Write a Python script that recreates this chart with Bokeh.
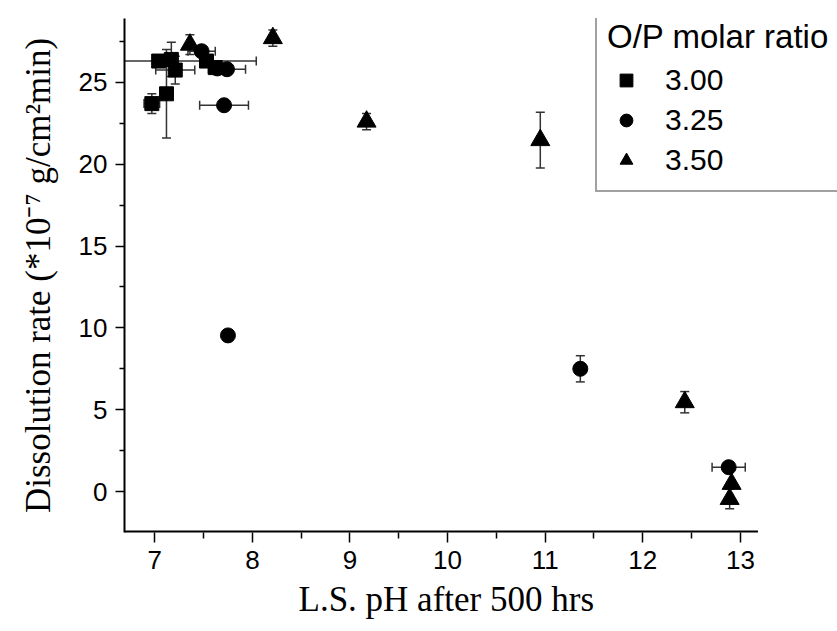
import numpy as np
from bokeh.plotting import figure
from bokeh.models import Range1d, Legend, LegendItem, FixedTicker, Title
from bokeh.embed import file_html
from bokeh.resources import INLINE

# ---- data: O/P molar ratio 3.00 (squares)
ph_300 = [6.97, 7.04, 7.12, 7.17, 7.21, 7.53, 7.62]
rate_300 = [23.7, 26.3, 24.3, 26.4, 25.75, 26.3, 25.9]
xerr_300 = [0.08, 1.0, 0.0, 0.0, 0.2, 0.0, 0.0]
yerr_300 = [0.6, 0.0, 2.7, 1.05, 0.85, 0.3, 0.3]

# ---- O/P 3.25 (circles)
ph_325 = [7.48, 7.64, 7.74, 7.71, 7.75, 11.36, 12.88]
rate_325 = [26.9, 25.85, 25.8, 23.6, 9.54, 7.5, 1.49]
xerr_325 = [0.14, 0.0, 0.19, 0.25, 0.0, 0.0, 0.17]
yerr_325 = [0.0, 0.0, 0.0, 0.0, 0.0, 0.8, 0.2]

# ---- O/P 3.50 (triangles)
ph_350 = [7.36, 8.21, 9.17, 10.95, 12.43, 12.91, 12.89]
rate_350 = [27.3, 27.7, 22.6, 21.47, 5.46, 0.47, -0.45]
xerr_350 = [0.0, 0.0, 0.0, 0.0, 0.0, 0.0, 0.0]
yerr_350 = [0.6, 0.5, 0.5, 1.7, 0.65, 0.0, 0.6]

x_ticks = [7, 8, 9, 10, 11, 12, 13]
x_minor = [7.5, 8.5, 9.5, 10.5, 11.5, 12.5]
y_ticks = [0, 5, 10, 15, 20, 25]
y_minor = [2.5, 7.5, 12.5, 17.5, 22.5, 27.5]

series_labels = ["3.00", "3.25", "3.50"]
x_title = "L.S. pH after 500 hrs"
y_title = "Dissolution rate (*10\u207b\u2077 g/cm\u00b2min)"
legend_title = "O/P molar ratio"

SANS = "Liberation Sans"
SERIF = "Liberation Serif"

X_LO, X_AXIS_END, X_HI = 6.69, 13.18, 13.995
Y_LO, Y_HI = -2.5, 28.9

p = figure(width=837, height=631,
           x_range=Range1d(X_LO, X_HI), y_range=Range1d(Y_LO, Y_HI),
           output_backend="svg", toolbar_location=None,
           min_border_left=124, min_border_right=0,
           min_border_top=18, min_border_bottom=99)

p.grid.visible = False
p.outline_line_color = None
p.background_fill_color = "white"

for ax in (p.xaxis[0], p.yaxis[0]):
    ax.axis_line_color = "black"
    ax.axis_line_width = 2
    ax.major_tick_line_color = "black"
    ax.minor_tick_line_color = "black"
    ax.major_tick_line_width = 1.5
    ax.minor_tick_line_width = 1.5
    ax.major_tick_in = 0
    ax.minor_tick_in = 0
    ax.major_label_text_font = SANS
    ax.major_label_text_font_size = "26px"
    ax.major_label_text_color = "black"
    ax.axis_label_text_font = SERIF
    ax.axis_label_text_font_style = "normal"
    ax.axis_label_text_color = "black"

# the bottom axis line stops at pH 13.18 (the frame continues under the legend)
p.xaxis.axis_line_color = None
p.segment(x0=[X_LO], y0=[Y_LO], x1=[X_AXIS_END], y1=[Y_LO], line_color="black", line_width=4)

p.xaxis.ticker = FixedTicker(ticks=x_ticks, minor_ticks=x_minor)
p.yaxis.ticker = FixedTicker(ticks=y_ticks, minor_ticks=y_minor)
p.xaxis.major_tick_out = 10
p.xaxis.minor_tick_out = 6
p.yaxis.major_tick_out = 9
p.yaxis.minor_tick_out = 5
p.xaxis.major_label_standoff = 8
p.yaxis.major_label_standoff = 8

# x title placed under the visible axis (not under the whole frame)
xt = Title(text=x_title, align="left", offset=174, text_font=SERIF,
           text_font_size="35px", text_font_style="normal", text_color="black",
           standoff=12)
p.add_layout(xt, "below")

p.yaxis.axis_label = y_title
p.yaxis.axis_label_text_font_size = "35px"
p.yaxis.axis_label_standoff = 18

BAR = "#333333"


def error_bars(xs, ys, xe, ye):
    xs = np.array(xs); ys = np.array(ys); xe = np.array(xe); ye = np.array(ye)
    v = ye > 0
    if v.any():
        p.segment(xs[v], ys[v] - ye[v], xs[v], ys[v] + ye[v], line_color=BAR, line_width=1.5)
        p.scatter(np.concatenate([xs[v], xs[v]]), np.concatenate([ys[v] - ye[v], ys[v] + ye[v]]),
                  marker="dash", size=9, line_color=BAR, line_width=1.5)
    h = xe > 0
    if h.any():
        p.segment(xs[h] - xe[h], ys[h], xs[h] + xe[h], ys[h], line_color=BAR, line_width=1.5)
        p.scatter(np.concatenate([xs[h] - xe[h], xs[h] + xe[h]]), np.concatenate([ys[h], ys[h]]),
                  marker="dash", angle=np.pi / 2, size=9, line_color=BAR, line_width=1.5)


error_bars(ph_300, rate_300, xerr_300, yerr_300)
error_bars(ph_325, rate_325, xerr_325, yerr_325)
error_bars(ph_350, rate_350, xerr_350, yerr_350)

r_sq = p.scatter(ph_300, rate_300, marker="square", size=14, fill_color="black", line_color="black")
r_ci = p.scatter(ph_325, rate_325, marker="circle", size=15, fill_color="black", line_color="black")
r_tr = p.scatter(ph_350, rate_350, marker="triangle", size=19, fill_color="black", line_color="black")

legend = Legend(items=[LegendItem(label=series_labels[0], renderers=[r_sq]),
                       LegendItem(label=series_labels[1], renderers=[r_ci]),
                       LegendItem(label=series_labels[2], renderers=[r_tr])],
                title=legend_title, location=(471, 340))
legend.title_text_font = SANS
legend.title_text_font_size = "33px"
legend.title_text_font_style = "normal"
legend.title_text_color = "black"
legend.label_text_font = SANS
legend.label_text_font_size = "30px"
legend.label_text_color = "black"
legend.border_line_color = "#444444"
legend.border_line_width = 2
legend.background_fill_color = "white"
legend.background_fill_alpha = 1
legend.padding = 10
legend.spacing = 0
legend.margin = 0
legend.glyph_width = 38
legend.glyph_height = 32
legend.label_height = 40
legend.label_standoff = 20
legend.title_standoff = 4
p.add_layout(legend)

open("out.html", "w").write(file_html(p, INLINE))
